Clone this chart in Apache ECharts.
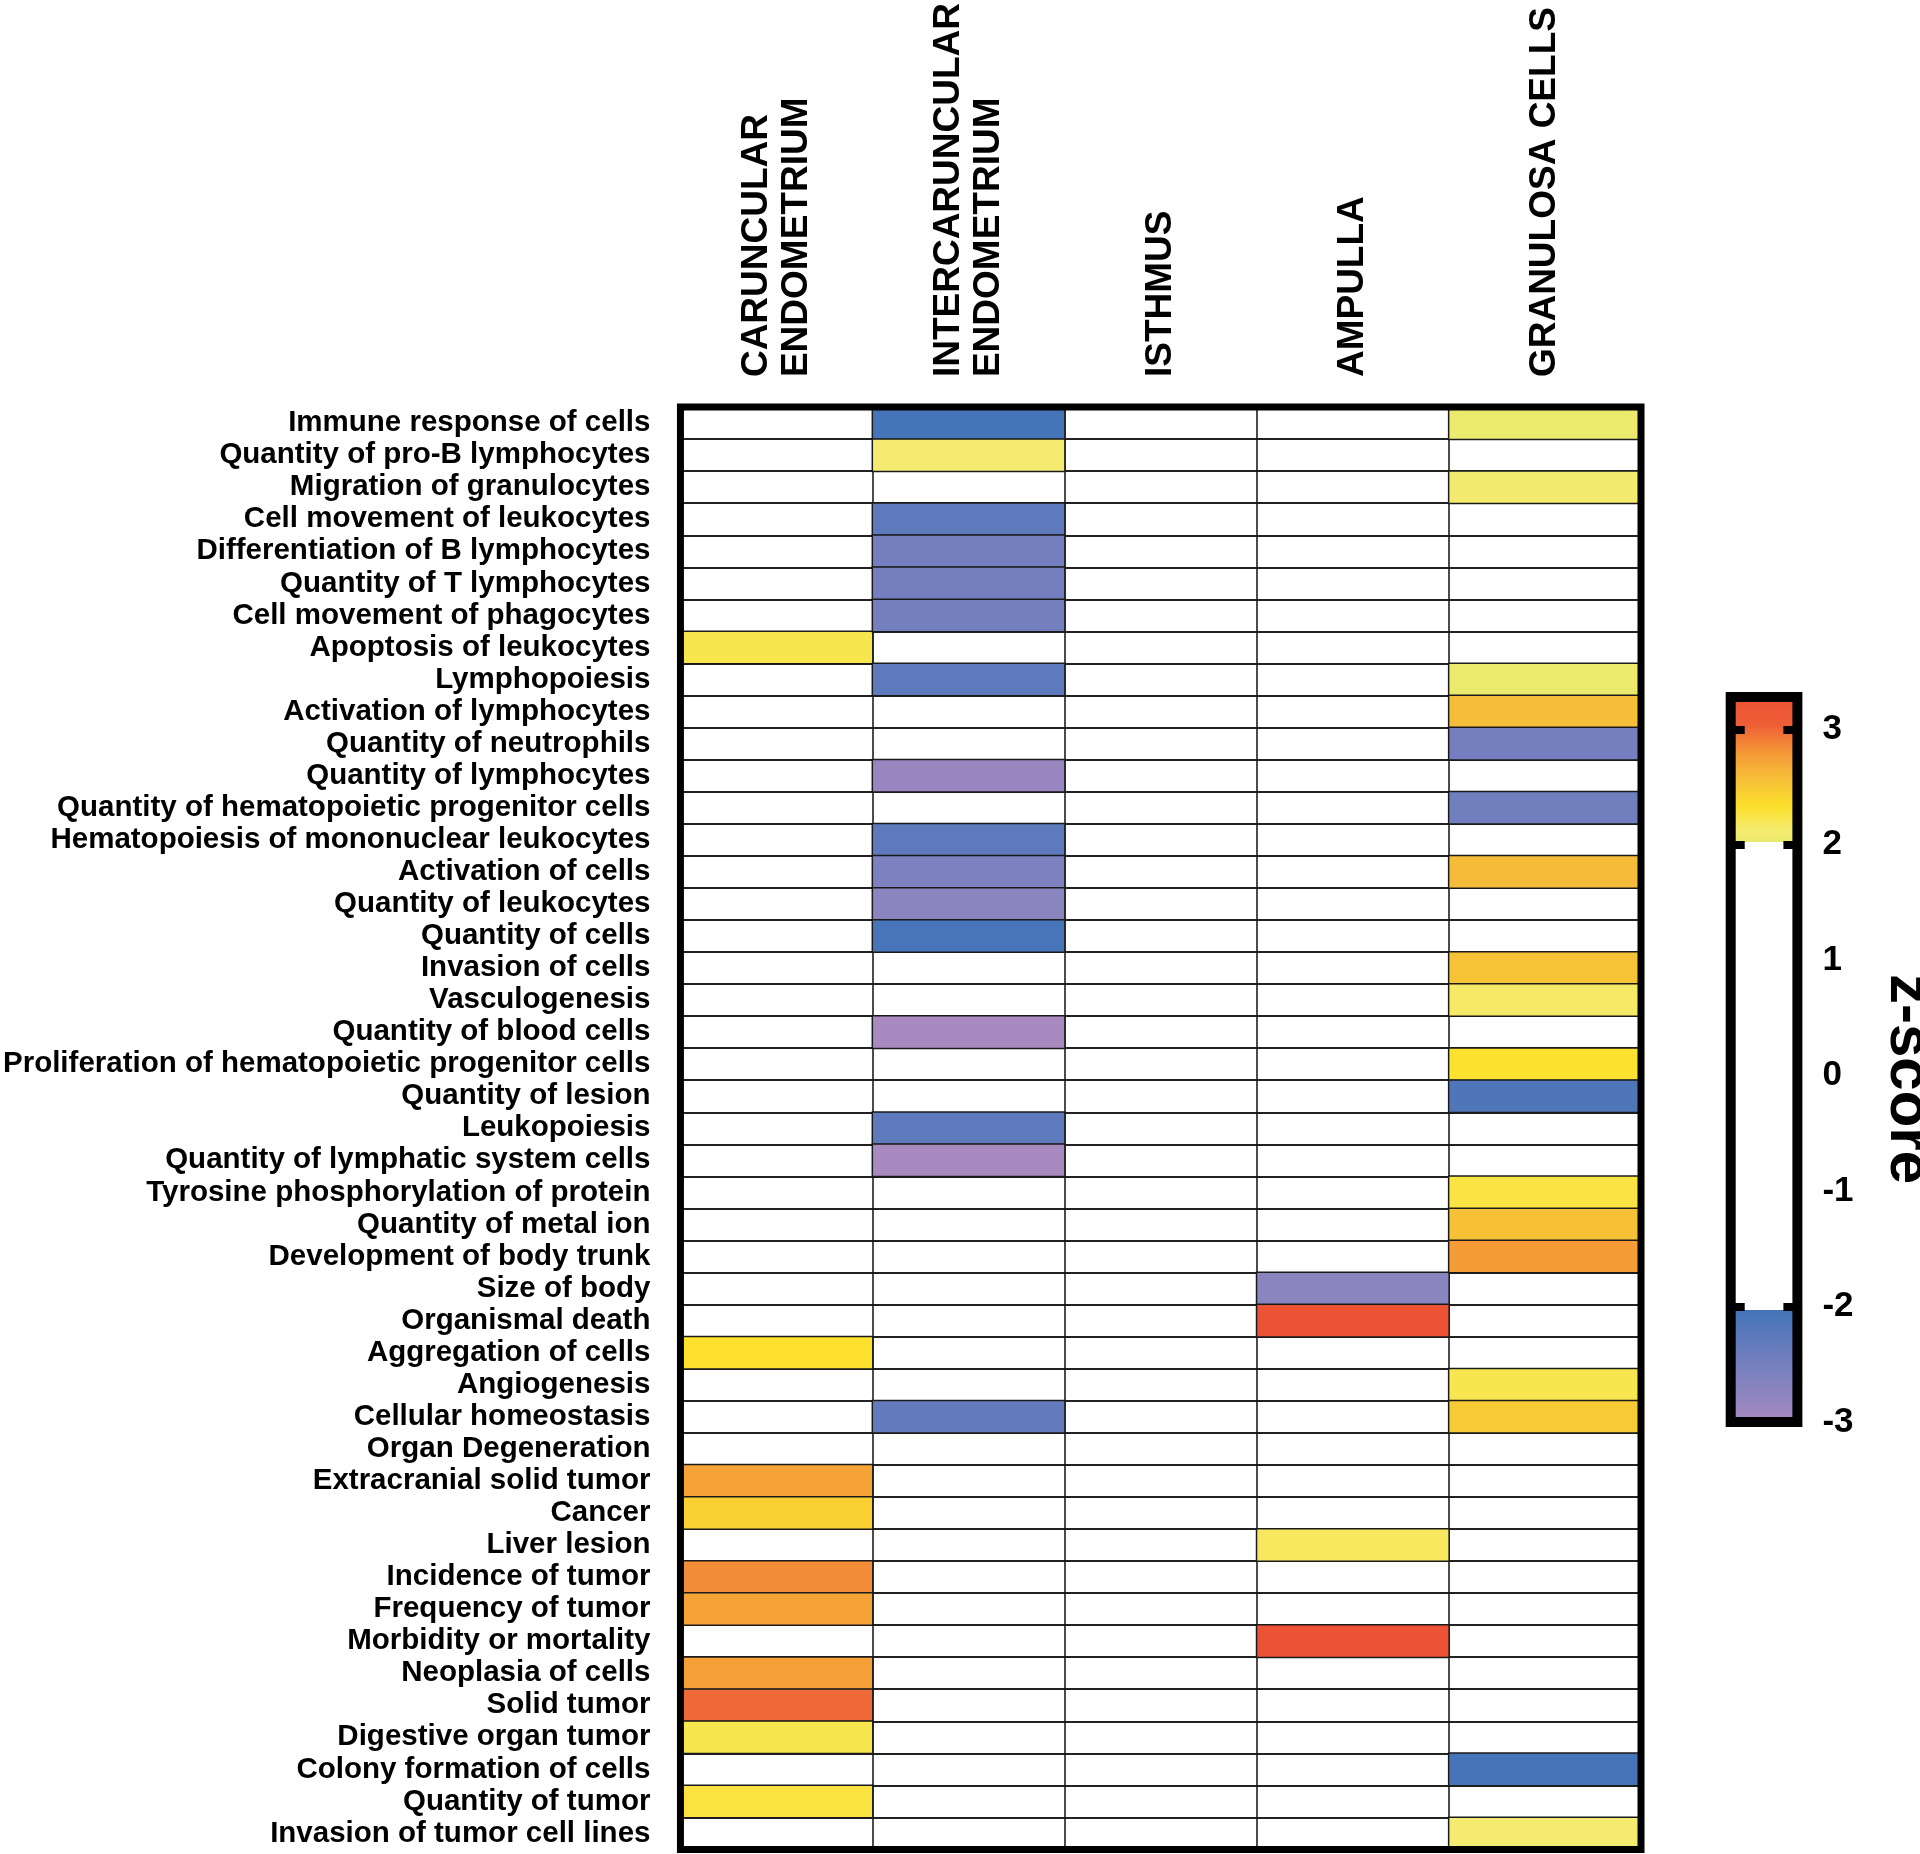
<!DOCTYPE html>
<html>
<head>
<meta charset="utf-8">
<script src="https://cdn.jsdelivr.net/npm/echarts@6/dist/echarts.min.js"></script>
<style>
html,body{margin:0;padding:0;background:#fff;}
#chart{width:1920px;height:1854px;}
</style>
</head>
<body>
<div id="chart"></div>
<script>
// ---------------- data ----------------
const columnLabels = ['CARUNCULAR\nENDOMETRIUM', 'INTERCARUNCULAR\nENDOMETRIUM', 'ISTHMUS', 'AMPULLA', 'GRANULOSA CELLS'];

const functionLabels = [
  'Immune response of cells',
  'Quantity of pro-B lymphocytes',
  'Migration of granulocytes',
  'Cell movement of leukocytes',
  'Differentiation of B lymphocytes',
  'Quantity of T lymphocytes',
  'Cell movement of phagocytes',
  'Apoptosis of leukocytes',
  'Lymphopoiesis',
  'Activation of lymphocytes',
  'Quantity of neutrophils',
  'Quantity of lymphocytes',
  'Quantity of hematopoietic progenitor cells',
  'Hematopoiesis of mononuclear leukocytes',
  'Activation of cells',
  'Quantity of leukocytes',
  'Quantity of cells',
  'Invasion of cells',
  'Vasculogenesis',
  'Quantity of blood cells',
  'Proliferation of hematopoietic progenitor cells',
  'Quantity of lesion',
  'Leukopoiesis',
  'Quantity of lymphatic system cells',
  'Tyrosine phosphorylation of protein',
  'Quantity of metal ion',
  'Development of body trunk',
  'Size of body',
  'Organismal death',
  'Aggregation of cells',
  'Angiogenesis',
  'Cellular homeostasis',
  'Organ Degeneration',
  'Extracranial solid tumor',
  'Cancer',
  'Liver lesion',
  'Incidence of tumor',
  'Frequency of tumor',
  'Morbidity or mortality',
  'Neoplasia of cells',
  'Solid tumor',
  'Digestive organ tumor',
  'Colony formation of cells',
  'Quantity of tumor',
  'Invasion of tumor cell lines'
];

// z-scores per column, one entry per function (null = not significant / blank)
const caruncularZ = [
  null, null, null, null, null,
  null, null, 2.20, null, null,
  null, null, null, null, null,
  null, null, null, null, null,
  null, null, null, null, null,
  null, null, null, null, 2.30,
  null, null, null, 2.70, 2.42,
  null, 2.81, 2.70, null, 2.72,
  2.95, 2.20, null, 2.24, null
];
const intercaruncularZ = [
  -2.02, 2.09, null, -2.25, -2.45,
  -2.45, -2.46, null, -2.25, null,
  null, -2.82, null, -2.25, -2.55,
  -2.68, -2.04, null, null, -2.98,
  null, null, -2.25, -2.98, null,
  null, null, null, null, null,
  null, -2.30, null, null, null,
  null, null, null, null, null,
  null, null, null, null, null
];
const isthmusZ = [
  null, null, null, null, null,
  null, null, null, null, null,
  null, null, null, null, null,
  null, null, null, null, null,
  null, null, null, null, null,
  null, null, null, null, null,
  null, null, null, null, null,
  null, null, null, null, null,
  null, null, null, null, null
];
const ampullaZ = [
  null, null, null, null, null,
  null, null, null, null, null,
  null, null, null, null, null,
  null, null, null, null, null,
  null, null, null, null, null,
  null, null, -2.68, 3.24, null,
  null, null, null, null, null,
  2.15, null, null, 3.24, null,
  null, null, null, null, null
];
const granulosaZ = [
  2.01, null, 2.08, null, null,
  null, null, null, 2.01, 2.55,
  -2.47, null, -2.42, null, 2.56,
  null, null, 2.51, 2.13, null,
  2.29, -2.12, null, null, 2.23,
  2.53, 2.74, null, null, null,
  2.19, 2.46, null, null, null,
  null, null, null, null, null,
  null, null, -2.03, null, 2.10
];

// colour scale
const zMin = -3;
const zMax = 3.28;
const colorbarTicks = [3, 2, 1, 0, -1, -2, -3];
const colorbarStubs = [3, 2, -2];
const zAnchors = [-3, -2.5, -2, -2, 2, 2, 2.1, 2.3, 2.55, 2.75, 3.0, 3.28];
const zColors = ['#ab8ac0', '#7880bf', '#4473b8', '#ffffff', '#ffffff', '#ebea6c', '#f5eb70', '#fce02c', '#f6bd38', '#f59a37', '#ee5e36', '#ec5034'];

// ---------------- helpers ----------------
function hexToRgb(h) {
  return [parseInt(h.slice(1, 3), 16), parseInt(h.slice(3, 5), 16), parseInt(h.slice(5, 7), 16)];
}
function colorAt(v) {
  if (v <= zAnchors[0]) return zColors[0];
  for (let i = 0; i < zAnchors.length - 1; i++) {
    const a = zAnchors[i], b = zAnchors[i + 1];
    if (b > a && v >= a && v <= b) {
      const t = (v - a) / (b - a);
      const c1 = hexToRgb(zColors[i]), c2 = hexToRgb(zColors[i + 1]);
      const c = c1.map((x, k) => Math.round(x + (c2[k] - x) * t));
      return 'rgb(' + c.join(',') + ')';
    }
  }
  return zColors[zColors.length - 1];
}
const nSamples = 628;
const scaleColors = [];
for (let k = 0; k <= nSamples; k++) scaleColors.push(colorAt(zMin + (zMax - zMin) * k / nSamples));

const gradientStops = [];
for (let i = zAnchors.length - 1; i >= 0; i--) {
  gradientStops.push({ offset: (zMax - zAnchors[i]) / (zMax - zMin), color: zColors[i] });
}

const columnValues = [caruncularZ, intercaruncularZ, isthmusZ, ampullaZ, granulosaZ];
const cells = [];
columnValues.forEach((vals, ci) => {
  vals.forEach((v, ri) => { if (v !== null) cells.push([ci, ri, v]); });
});

const FONT = "'Liberation Sans', Arial, Helvetica, sans-serif";

const chart = echarts.init(document.getElementById('chart'), null, { renderer: 'canvas', width: 1920, height: 1854 });

chart.setOption({
  animation: false,
  backgroundColor: '#ffffff',
  grid: [
    {
      left: 679.5, top: 404.5, width: 961.5, height: 1445,
      show: true, backgroundColor: 'transparent',
      borderColor: '#000', borderWidth: 7, z: 5
    },
    {
      left: 1730.7, top: 697, width: 66.7, height: 725,
      show: true,
      backgroundColor: { type: 'linear', x: 0, y: 0, x2: 0, y2: 1, colorStops: gradientStops },
      borderColor: '#000', borderWidth: 10
    }
  ],
  xAxis: [
    {
      gridIndex: 0, type: 'category', data: columnLabels, position: 'top',
      axisLine: { show: false }, axisTick: { show: false },
      splitLine: { show: true, lineStyle: { color: '#111', width: 1.5 } },
      axisLabel: {
        interval: 0, rotate: -90, margin: 30,
        fontFamily: FONT, fontWeight: 'bold', fontSize: 37, lineHeight: 40, color: '#000'
      }
    },
    { gridIndex: 1, type: 'category', data: [''], show: false }
  ],
  yAxis: [
    {
      gridIndex: 0, type: 'category', data: functionLabels, inverse: true,
      axisLine: { show: false }, axisTick: { show: false },
      splitLine: { show: true, lineStyle: { color: '#222', width: 2 } },
      axisLabel: {
        interval: 0, margin: 30,
        fontFamily: FONT, fontWeight: 'bold', fontSize: 29.5, color: '#000'
      }
    },
    {
      gridIndex: 1, type: 'value', min: zMin, max: zMax, position: 'right',
      axisLine: { show: false, onZero: false }, splitLine: { show: false },
      axisTick: { show: true, inside: true, length: 14, customValues: colorbarStubs, lineStyle: { color: '#000', width: 8 } },
      axisLabel: {
        customValues: colorbarTicks, margin: 25,
        fontFamily: FONT, fontWeight: 'bold', fontSize: 35, color: '#000'
      }
    },
    {
      gridIndex: 1, type: 'value', min: zMin, max: zMax, position: 'left',
      axisLine: { show: false, onZero: false }, splitLine: { show: false },
      axisTick: { show: true, inside: true, length: 14, customValues: colorbarStubs, lineStyle: { color: '#000', width: 8 } },
      axisLabel: { show: false }
    }
  ],
  visualMap: {
    type: 'continuous', show: false, min: zMin, max: zMax,
    dimension: 2, seriesIndex: 0,
    inRange: { color: scaleColors }
  },
  graphic: [
    {
      type: 'text', x: 1908, y: 1079, rotation: -Math.PI / 2,
      style: {
        text: 'z-score', fill: '#000',
        font: 'bold 60px ' + FONT,
        textAlign: 'center', textVerticalAlign: 'middle'
      }
    }
  ],
  series: [
    {
      type: 'heatmap', xAxisIndex: 0, yAxisIndex: 0,
      data: cells,
      itemStyle: { borderColor: '#1a1a1a', borderWidth: 1.5 },
      emphasis: { disabled: true },
      label: { show: false }
    }
  ]
});
</script>
</body>
</html>
